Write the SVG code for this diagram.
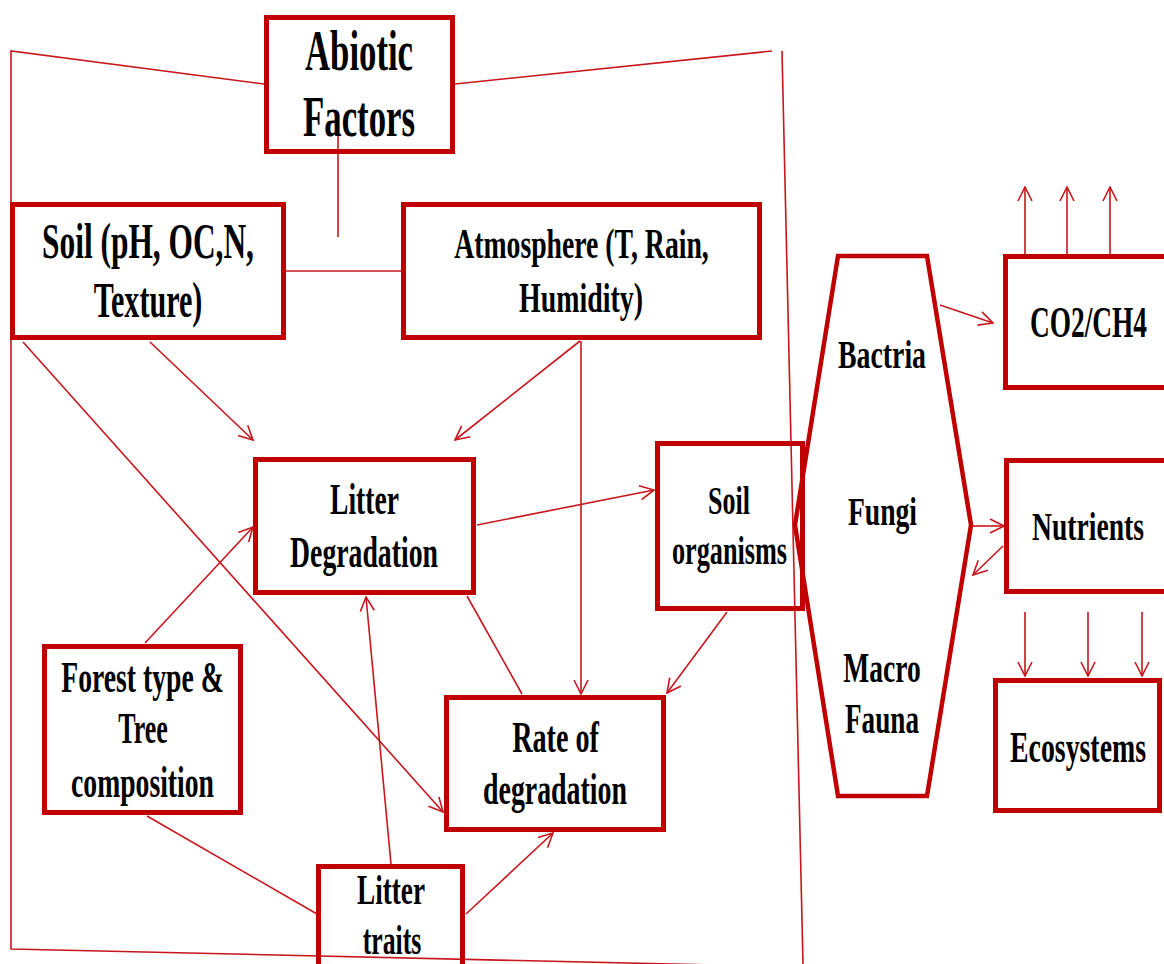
<svg xmlns="http://www.w3.org/2000/svg" width="1164" height="964" viewBox="0 0 1164 964">
<style>
.bx{fill:none;stroke:#C00000;stroke-width:5;stroke-linejoin:miter}
.hx{fill:none;stroke:#C00000;stroke-width:4.5}
.ln{fill:none;stroke:#C8161D;stroke-width:1.6}
.ar{fill:none;stroke:#C8161D;stroke-width:1.6;marker-end:url(#ah)}
text{font-family:"Liberation Serif","Times New Roman",serif;font-weight:bold;fill:#000;text-anchor:middle}
</style>
<defs>
<marker id="ah" viewBox="0 0 16 16" refX="15" refY="8" markerWidth="16" markerHeight="16" markerUnits="userSpaceOnUse" orient="auto">
<path d="M1,1 L15,8 L1,15" fill="none" stroke="#C8161D" stroke-width="1.6"/>
</marker>
</defs>
<rect width="1164" height="964" fill="#fff"/>
<g id="connectors">
<polyline class="ln" points="264,84 11,51 11,949 803,967"/>
<line class="ln" x1="455" y1="84" x2="772" y2="51"/>
<line class="ln" x1="782" y1="51" x2="803" y2="964"/>
<line class="ln" x1="338" y1="126" x2="338" y2="237"/>
<line class="ln" x1="286" y1="271" x2="401" y2="271"/>
<line class="ar" x1="150" y1="342" x2="253" y2="440"/>
<line class="ar" x1="23" y1="342" x2="443" y2="812"/>
<line class="ar" x1="580" y1="341" x2="455" y2="440"/>
<line class="ar" x1="581" y1="341" x2="581" y2="694"/>
<line class="ar" x1="477" y1="525" x2="654" y2="490"/>
<line class="ln" x1="467" y1="596" x2="522" y2="694"/>
<line class="ar" x1="727" y1="612" x2="667" y2="693"/>
<line class="ar" x1="145" y1="643" x2="253" y2="527"/>
<line class="ln" x1="147" y1="816" x2="317" y2="914"/>
<line class="ar" x1="391" y1="864" x2="366" y2="597"/>
<line class="ar" x1="466" y1="914" x2="553" y2="833"/>
<line class="ar" x1="940" y1="305" x2="993" y2="323"/>
<line class="ar" x1="1025" y1="254" x2="1025" y2="187"/>
<line class="ar" x1="1067" y1="254" x2="1067" y2="187"/>
<line class="ar" x1="1110" y1="254" x2="1110" y2="187"/>
<line class="ar" x1="973" y1="526" x2="1004" y2="526"/>
<line class="ar" x1="1003" y1="546" x2="973" y2="575"/>
<line class="ar" x1="1025" y1="612" x2="1025" y2="676"/>
<line class="ar" x1="1088" y1="612" x2="1088" y2="676"/>
<line class="ar" x1="1142" y1="612" x2="1142" y2="676"/>
</g>
<g id="abiotic">
<rect class="bx" x="266.5" y="17.5" width="186" height="134"/>
<text transform="translate(359,70) scale(0.62,1)" font-size="56">Abiotic</text>
<text transform="translate(359,136) scale(0.621,1)" font-size="56">Factors</text>
</g>
<g id="soil">
<rect class="bx" x="12.5" y="204.5" width="271" height="133"/>
<text transform="translate(148,258) scale(0.628,1)" font-size="50">Soil (pH, OC,N,</text>
<text transform="translate(148,317) scale(0.602,1)" font-size="50">Texture)</text>
</g>
<g id="atmosphere">
<rect class="bx" x="403.5" y="204.5" width="356" height="133"/>
<text transform="translate(581.5,258) scale(0.66,1)" font-size="42">Atmosphere (T, Rain,</text>
<text transform="translate(581,312) scale(0.664,1)" font-size="42">Humidity)</text>
</g>
<g id="litter-degradation">
<rect class="bx" x="255.5" y="459.5" width="218" height="133"/>
<text transform="translate(364.5,514) scale(0.627,1)" font-size="44">Litter</text>
<text transform="translate(364,567) scale(0.63,1)" font-size="44">Degradation</text>
</g>
<g id="soil-organisms">
<rect class="bx" x="657.5" y="443.5" width="145" height="165"/>
<text transform="translate(729,514) scale(0.635,1)" font-size="41">Soil</text>
<text transform="translate(729.5,564) scale(0.64,1)" font-size="41">organisms</text>
</g>
<g id="organisms-hexagon">
<polygon class="hx" points="838,256 927,256 971,525 927,796 838,796 795,525"/>
<text transform="translate(882,368) scale(0.695,1)" font-size="40">Bactria</text>
<text transform="translate(882.5,525) scale(0.673,1)" font-size="41">Fungi</text>
<text transform="translate(882,682) scale(0.656,1)" font-size="42">Macro</text>
<text transform="translate(882,733) scale(0.647,1)" font-size="42">Fauna</text>
</g>
<g id="co2">
<rect class="bx" x="1005.5" y="256.5" width="200" height="131"/>
<text transform="translate(1088.5,337) scale(0.622,1)" font-size="44">CO2/CH4</text>
</g>
<g id="nutrients">
<rect class="bx" x="1006.5" y="460.5" width="200" height="131"/>
<text transform="translate(1088,540) scale(0.673,1)" font-size="41">Nutrients</text>
</g>
<g id="ecosystems">
<rect class="bx" x="995.5" y="680.5" width="164" height="130"/>
<text transform="translate(1078,762) scale(0.632,1)" font-size="44">Ecosystems</text>
</g>
<g id="rate">
<rect class="bx" x="446.5" y="697.5" width="217" height="132"/>
<text transform="translate(555.5,752) scale(0.64,1)" font-size="44">Rate of</text>
<text transform="translate(555,804) scale(0.633,1)" font-size="44">degradation</text>
</g>
<g id="forest">
<rect class="bx" x="44.5" y="646.5" width="196" height="166"/>
<text transform="translate(142.5,692) scale(0.629,1)" font-size="44">Forest type &amp;</text>
<text transform="translate(143,743) scale(0.59,1)" font-size="44">Tree</text>
<text transform="translate(142.5,797) scale(0.629,1)" font-size="44">composition</text>
</g>
<g id="litter-traits">
<rect class="bx" x="318.5" y="866.5" width="144" height="120"/>
<text transform="translate(391,904) scale(0.633,1)" font-size="43">Litter</text>
<text transform="translate(392,954) scale(0.613,1)" font-size="42">traits</text>
</g>
</svg>
